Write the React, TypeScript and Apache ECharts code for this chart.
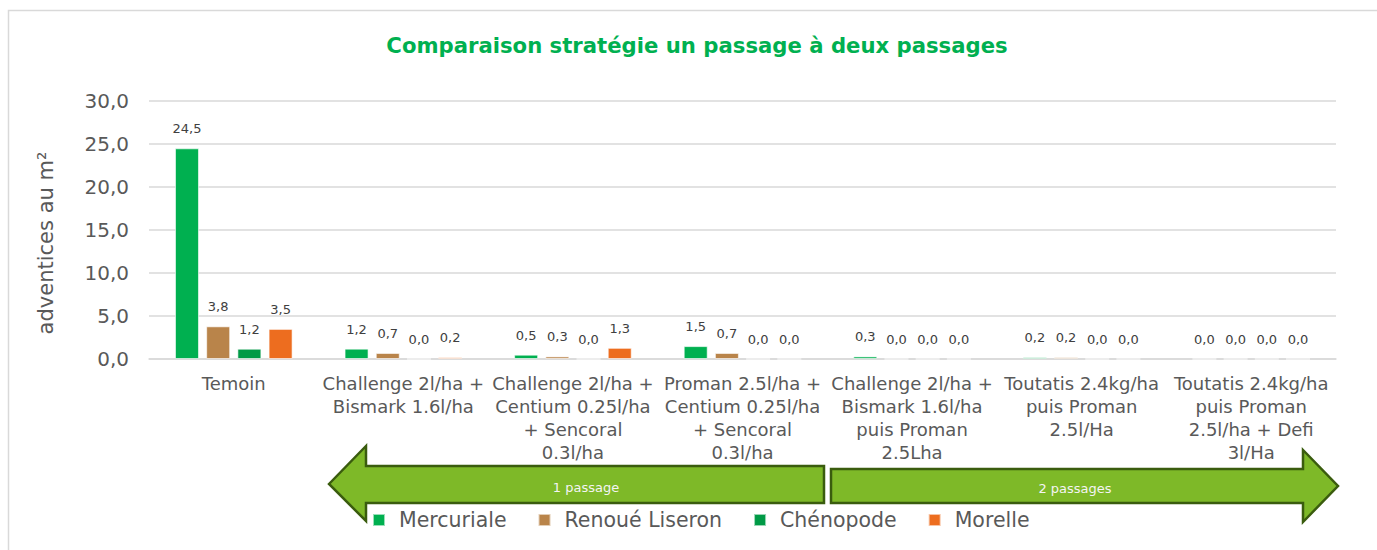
import React, { useEffect, useRef } from "react";
import * as echarts from "echarts";

const categories = [
  "Temoin",
  "Challenge 2l/ha +\nBismark 1.6l/ha",
  "Challenge 2l/ha +\nCentium 0.25l/ha\n+ Sencoral\n0.3l/ha",
  "Proman 2.5l/ha +\nCentium 0.25l/ha\n+ Sencoral\n0.3l/ha",
  "Challenge 2l/ha +\nBismark 1.6l/ha\npuis Proman\n2.5Lha",
  "Toutatis 2.4kg/ha\npuis Proman\n2.5l/Ha",
  "Toutatis 2.4kg/ha\npuis Proman\n2.5l/ha + Defi\n3l/Ha",
];

const seriesNames = ["Mercuriale", "Renoué Liseron", "Chénopode", "Morelle"];
const seriesColors = ["#00B050", "#B9844A", "#009A46", "#ED6D1F"];

const mercuriale = [24.5, 1.2, 0.5, 1.5, 0.3, 0.2, 0.0];
const renoueLiseron = [3.8, 0.7, 0.3, 0.7, 0.0, 0.2, 0.0];
const chenopode = [1.2, 0.0, 0.0, 0.0, 0.0, 0.0, 0.0];
const morelle = [3.5, 0.2, 1.3, 0.0, 0.0, 0.0, 0.0];

const seriesValues = [mercuriale, renoueLiseron, chenopode, morelle];

const yTicks = { min: 0, max: 30, interval: 5 };

const title = "Comparaison stratégie un passage à deux passages";
const yAxisTitle = "adventices au m²";
const arrowLabels = ["1 passage", "2 passages"];

const FONT = "'DejaVu Sans', Verdana, sans-serif";
const fmt = (v: number) => v.toFixed(1).replace(".", ",");

export default function App() {
  const ref = useRef<HTMLDivElement>(null);
  useEffect(() => {
    if (!ref.current) return;
    const chart = echarts.init(ref.current, undefined, { renderer: "svg" });
    const arrowFill = "#7EB928";
    const arrowStroke = "#3A5C0E";
    chart.setOption({
      animation: false,
      backgroundColor: "#ffffff",
      textStyle: { fontFamily: FONT },
      title: {
        text: title,
        left: 692,
        textAlign: "center",
        top: 30,
        textStyle: {
          color: "#00B050",
          fontSize: 21.2,
          fontWeight: "bold",
          fontFamily: FONT,
        },
      },
      legend: {
        left: 372,
        top: 509,
        padding: 0,
        itemWidth: 12,
        itemHeight: 12,
        itemGap: 31,
        icon: "rect",
        data: seriesNames,
        textStyle: {
          color: "#595959",
          fontSize: 20.5,
          lineHeight: 22,
          fontFamily: FONT,
          padding: [0, 0, 0, 9],
        },
      },
      grid: { left: 149, right: 41, top: 101, bottom: 191, containLabel: false },
      xAxis: {
        type: "category",
        data: categories,
        axisLine: { show: true, lineStyle: { color: "#D9D9D9", width: 1.5 } },
        axisTick: { show: false },
        axisLabel: {
          interval: 0,
          color: "#595959",
          fontSize: 18,
          lineHeight: 23,
          margin: 13,
          fontFamily: FONT,
          align: "center",
        },
      },
      yAxis: {
        type: "value",
        min: yTicks.min,
        max: yTicks.max,
        interval: yTicks.interval,
        axisLine: { show: false },
        axisTick: { show: false },
        splitLine: { lineStyle: { color: "#D9D9D9", width: 1.5 } },
        axisLabel: {
          color: "#595959",
          fontSize: 20,
          margin: 20,
          fontFamily: FONT,
          formatter: (v: number) => fmt(v),
        },
      },
      series: seriesNames.map((name, i) => ({
        name,
        type: "bar",
        data: seriesValues[i],
        barWidth: 24,
        barGap: "30%",
        itemStyle: {
          color: seriesColors[i],
          borderColor: "rgba(255,255,255,0.6)",
          borderWidth: 1,
        },
        label: {
          show: true,
          position: "top",
          distance: 13,
          color: "#404040",
          fontSize: 13,
          fontFamily: FONT,
          formatter: (p: any) => fmt(p.value),
        },
      })),
      graphic: [
        {
          type: "rect",
          z: -10,
          silent: true,
          shape: { x: 8.5, y: 10.5, width: 1500, height: 700 },
          style: { fill: "none", stroke: "#D9D9D9", lineWidth: 1.5 },
        },
        {
          type: "text",
          x: 46,
          y: 243,
          rotation: Math.PI / 2,
          style: {
            text: yAxisTitle,
            fill: "#595959",
            fontSize: 21,
            fontFamily: FONT,
            textAlign: "center",
            textVerticalAlign: "middle",
          },
        },
        {
          type: "polygon",
          z: 1,
          shape: {
            points: [
              [329, 484],
              [366, 446],
              [366, 466],
              [824, 466],
              [824, 503],
              [366, 503],
              [366, 521],
            ],
          },
          style: { fill: arrowFill, stroke: arrowStroke, lineWidth: 2.5 },
        },
        {
          type: "polygon",
          z: 1,
          shape: {
            points: [
              [831, 469],
              [1303, 469],
              [1303, 450],
              [1338, 486],
              [1303, 522],
              [1303, 503],
              [831, 503],
            ],
          },
          style: { fill: arrowFill, stroke: arrowStroke, lineWidth: 2.5 },
        },
        {
          type: "text",
          z: 2,
          x: 586,
          y: 487,
          style: {
            text: arrowLabels[0],
            fill: "#F4F4F4",
            fontSize: 13,
            fontFamily: FONT,
            textAlign: "center",
            textVerticalAlign: "middle",
          },
        },
        {
          type: "text",
          z: 2,
          x: 1075,
          y: 488,
          style: {
            text: arrowLabels[1],
            fill: "#F4F4F4",
            fontSize: 13,
            fontFamily: FONT,
            textAlign: "center",
            textVerticalAlign: "middle",
          },
        },
      ],
    });
    return () => chart.dispose();
  }, []);
  return (
    <div
      ref={ref}
      style={{ position: "fixed", left: 0, top: 0, width: 1377, height: 550 }}
    />
  );
}
